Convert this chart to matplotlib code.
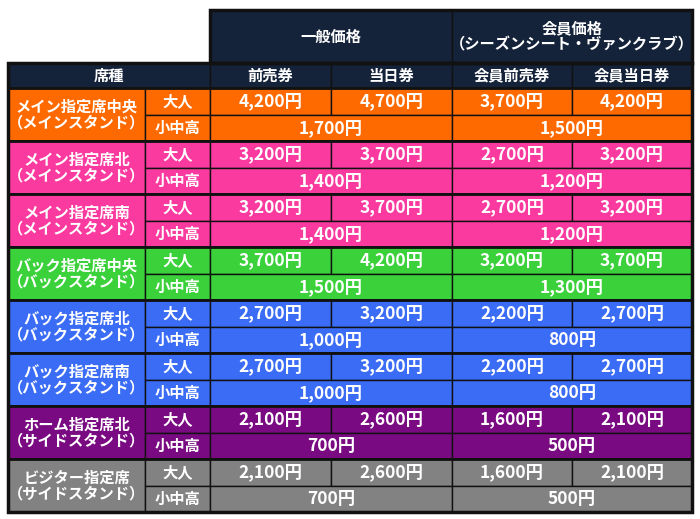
import matplotlib.pyplot as plt
from matplotlib.patches import Rectangle

plt.rcParams['font.family'] = 'Noto Sans CJK JP'

seats = ['メイン指定席中央\n（メインスタンド）', 'メイン指定席北\n（メインスタンド）',
         'メイン指定席南\n（メインスタンド）', 'バック指定席中央\n（バックスタンド）',
         'バック指定席北\n（バックスタンド）', 'バック指定席南\n（バックスタンド）',
         'ホーム指定席北\n（サイドスタンド）', 'ビジター指定席\n（サイドスタンド）']
colors = ['#ff6a00', '#fb3aa0', '#fb3aa0', '#3ad13a', '#3a6cf5', '#3a6cf5', '#7a0a82', '#828282']
adult = [
    ['4,200円', '4,700円', '3,700円', '4,200円'],
    ['3,200円', '3,700円', '2,700円', '3,200円'],
    ['3,200円', '3,700円', '2,700円', '3,200円'],
    ['3,700円', '4,200円', '3,200円', '3,700円'],
    ['2,700円', '3,200円', '2,200円', '2,700円'],
    ['2,700円', '3,200円', '2,200円', '2,700円'],
    ['2,100円', '2,600円', '1,600円', '2,100円'],
    ['2,100円', '2,600円', '1,600円', '2,100円'],
]
child_general = ['1,700円', '1,400円', '1,400円', '1,500円', '1,000円', '1,000円', '700円', '700円']
child_member = ['1,500円', '1,200円', '1,200円', '1,300円', '800円', '800円', '500円', '500円']
sub_headers = ['前売券', '当日券', '会員前売券', '会員当日券']

navy = '#14233a'
W, H = 700, 519
fig = plt.figure(figsize=(7, 5.19), dpi=100)
ax = fig.add_axes([0, 0, 1, 1])
ax.set_xlim(0, W)
ax.set_ylim(H, 0)
ax.axis('off')

xs = [8, 145, 210, 331, 452, 572, 692]
y_top, y_h2, y_body, y_end = 10, 63, 88, 512
gh = (y_end - y_body) / 8

def cell(x0, y0, x1, y1, fc, text='', fs=12, lw=1):
    ax.add_patch(Rectangle((x0, y0), x1 - x0, y1 - y0, facecolor=fc, edgecolor='#111111', lw=lw))
    if text:
        ax.text((x0 + x1) / 2, (y0 + y1) / 2, text, ha='center', va='center',
                color='white', fontsize=fs, fontweight='bold', linespacing=1.0)

# headers
cell(xs[2], y_top, xs[4], y_h2, navy, '一般価格', 11)
cell(xs[4], y_top, xs[6], y_h2, navy, '会員価格\n（シーズンシート・ヴァンクラブ）', 11)
cell(xs[0], y_h2, xs[2], y_body, navy, '席種', 11)
for i, s in enumerate(sub_headers):
    cell(xs[2 + i], y_h2, xs[3 + i], y_body, navy, s, 11)

for g in range(8):
    y0 = y_body + g * gh
    ym = y0 + gh / 2
    c = colors[g]
    cell(xs[0], y0, xs[1], y0 + gh, c, seats[g], 11)
    cell(xs[1], y0, xs[2], ym, c, '大人', 11)
    cell(xs[1], ym, xs[2], y0 + gh, c, '小中高', 11)
    for i in range(4):
        cell(xs[2 + i], y0, xs[3 + i], ym, c, adult[g][i], 12.5)
    cell(xs[2], ym, xs[4], y0 + gh, c, child_general[g], 12.5)
    cell(xs[4], ym, xs[6], y0 + gh, c, child_member[g], 12.5)
    ax.add_patch(Rectangle((xs[0], y0), xs[6] - xs[0], gh, fill=False, edgecolor='#111111', lw=2))

ax.add_patch(Rectangle((xs[0], y_h2), xs[6] - xs[0], y_end - y_h2, fill=False, edgecolor='#111111', lw=2.5))
ax.add_patch(Rectangle((xs[2], y_top), xs[6] - xs[2], y_h2 - y_top, fill=False, edgecolor='#111111', lw=2.5))

fig.savefig('out.png', dpi=100)
